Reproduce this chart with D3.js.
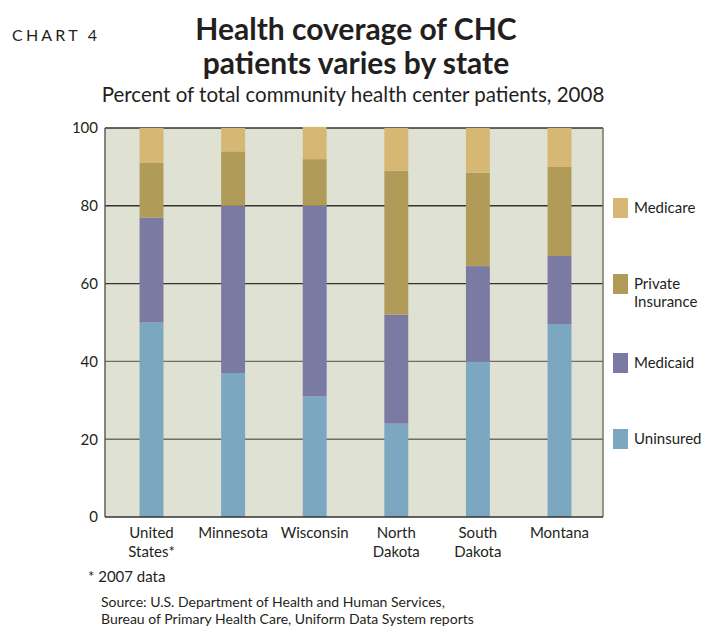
<!DOCTYPE html>
<html>
<head>
<meta charset="utf-8">
<script src="https://cdn.jsdelivr.net/npm/d3@7"></script>
<style>
  body { margin: 0; background: #fff; }
  svg text { font-family: Lato, "Noto Sans", sans-serif; fill: #231f20; }
</style>
</head>
<body>
<svg id="chart" width="703" height="627"></svg>
<script>
// data (percent of CHC patients)
const states = ["United States*", "Minnesota", "Wisconsin", "North Dakota", "South Dakota", "Montana"]
const uninsured = [50, 37, 31, 24, 40, 49.6]
const medicaid = [27, 43, 49, 28, 24.5, 17.5]
const privateIns = [14, 14, 12, 37, 24, 23]
const medicare = [9, 6, 8.3, 11, 11.5, 9.9]
const seriesNames = ["Uninsured", "Medicaid", "Private Insurance", "Medicare"]
const yTicks = [0, 20, 40, 60, 80, 100]

const colors = {
	"Uninsured": "#7ba7c1",
	"Medicaid": "#7b7aa2",
	"Private Insurance": "#b09c58",
	"Medicare": "#d6b874"
}

const svg = d3.select("#chart")
const plot = {left: 105, right: 603, top: 128, bottom: 517}

let rows = states.map((s, i) => ({
	state: s,
	"Uninsured": uninsured[i],
	"Medicaid": medicaid[i],
	"Private Insurance": privateIns[i],
	"Medicare": medicare[i]
}))
let stacked = d3.stack().keys(seriesNames)(rows)

let x = d3.scaleBand().domain(states).range([111, 600]).paddingInner(0.707).paddingOuter(0.35)
let y = d3.scaleLinear().domain([0, 100]).range([plot.bottom, plot.top])

// titles
svg.append("text").attr("x", 12).attr("y", 41)
	.style("font-size", "16px").style("letter-spacing", "3.2px")
	.text("CHART 4")
svg.append("text").attr("x", 356).attr("y", 40).attr("text-anchor", "middle")
	.style("font-size", "30px").style("font-weight", "bold")
	.text("Health coverage of CHC")
svg.append("text").attr("x", 356).attr("y", 74).attr("text-anchor", "middle")
	.style("font-size", "30px").style("font-weight", "bold")
	.text("patients varies by state")
svg.append("text").attr("x", 353).attr("y", 102).attr("text-anchor", "middle")
	.style("font-size", "20.5px")
	.text("Percent of total community health center patients, 2008")

// plot background
svg.append("rect")
	.attr("x", plot.left).attr("y", plot.top)
	.attr("width", plot.right - plot.left).attr("height", plot.bottom - plot.top)
	.attr("fill", "#dfe1d3")

// grid lines
svg.append("g").selectAll("line").data(yTicks.filter(t => t > 0)).join("line")
	.attr("x1", plot.left).attr("x2", plot.right)
	.attr("y1", d => y(d)).attr("y2", d => y(d))
	.attr("stroke", d => d >= 60 ? "#333" : "#6e6e66")
	.attr("stroke-width", 1.4)

// bars
svg.append("g").selectAll("g").data(stacked).join("g")
	.attr("fill", d => colors[d.key])
	.selectAll("rect").data(d => d).join("rect")
	.attr("x", d => x(d.data.state))
	.attr("width", x.bandwidth())
	.attr("y", d => y(d[1]))
	.attr("height", d => y(d[0]) - y(d[1]))

// frame
svg.append("line").attr("x1", plot.left).attr("x2", plot.left)
	.attr("y1", plot.top).attr("y2", plot.bottom).attr("stroke", "#55554d").attr("stroke-width", 1.4)
svg.append("line").attr("x1", plot.right).attr("x2", plot.right)
	.attr("y1", plot.top).attr("y2", plot.bottom).attr("stroke", "#6e6e66").attr("stroke-width", 1.4)
svg.append("line").attr("x1", plot.left).attr("x2", plot.right)
	.attr("y1", plot.bottom).attr("y2", plot.bottom).attr("stroke", "#333").attr("stroke-width", 1.6)

// y axis labels
let yAxis = svg.append("g").attr("transform", `translate(${plot.left},0)`)
	.call(d3.axisLeft(y).tickValues(yTicks).tickSize(0).tickPadding(7))
yAxis.select(".domain").remove()
yAxis.selectAll("text").style("font-size", "15px").style("font-family", "Lato, sans-serif").attr("fill", "#231f20")

// x labels (two lines)
let xLab = svg.append("g").selectAll("text").data(states).join("text")
	.attr("text-anchor", "middle")
	.attr("x", d => x(d) + x.bandwidth() / 2)
	.attr("y", 538)
	.style("font-size", "15px")
xLab.each(function(d) {
	let parts = d.split(" ")
	let t = d3.select(this)
	parts.forEach((p, i) => {
		t.append("tspan").attr("x", x(d) + x.bandwidth() / 2).attr("dy", i ? 19 : 0).text(p)
	})
})

// legend
const legendY = [198, 274, 353, 429]
const legendOrder = ["Medicare", "Private Insurance", "Medicaid", "Uninsured"]
let leg = svg.append("g").selectAll("g").data(legendOrder).join("g")
	.attr("transform", (d, i) => `translate(613,${legendY[i]})`)
leg.append("rect").attr("width", 15).attr("height", 20).attr("fill", d => colors[d])
leg.append("text").attr("x", 21).attr("y", 15).style("font-size", "15px")
	.each(function(d) {
		let parts = d === "Private Insurance" ? ["Private", "Insurance"] : [d]
		parts.forEach((p, i) => {
			d3.select(this).append("tspan").attr("x", 21).attr("dy", i ? 18 : 0).text(p)
		})
	})

// notes
svg.append("text").attr("x", 88).attr("y", 582).style("font-size", "15px").text("* 2007 data")
svg.append("text").attr("x", 101).attr("y", 607).style("font-size", "14px")
	.text("Source: U.S. Department of Health and Human Services,")
svg.append("text").attr("x", 101).attr("y", 624).style("font-size", "14px")
	.text("Bureau of Primary Health Care, Uniform Data System reports")
</script>
</body>
</html>
